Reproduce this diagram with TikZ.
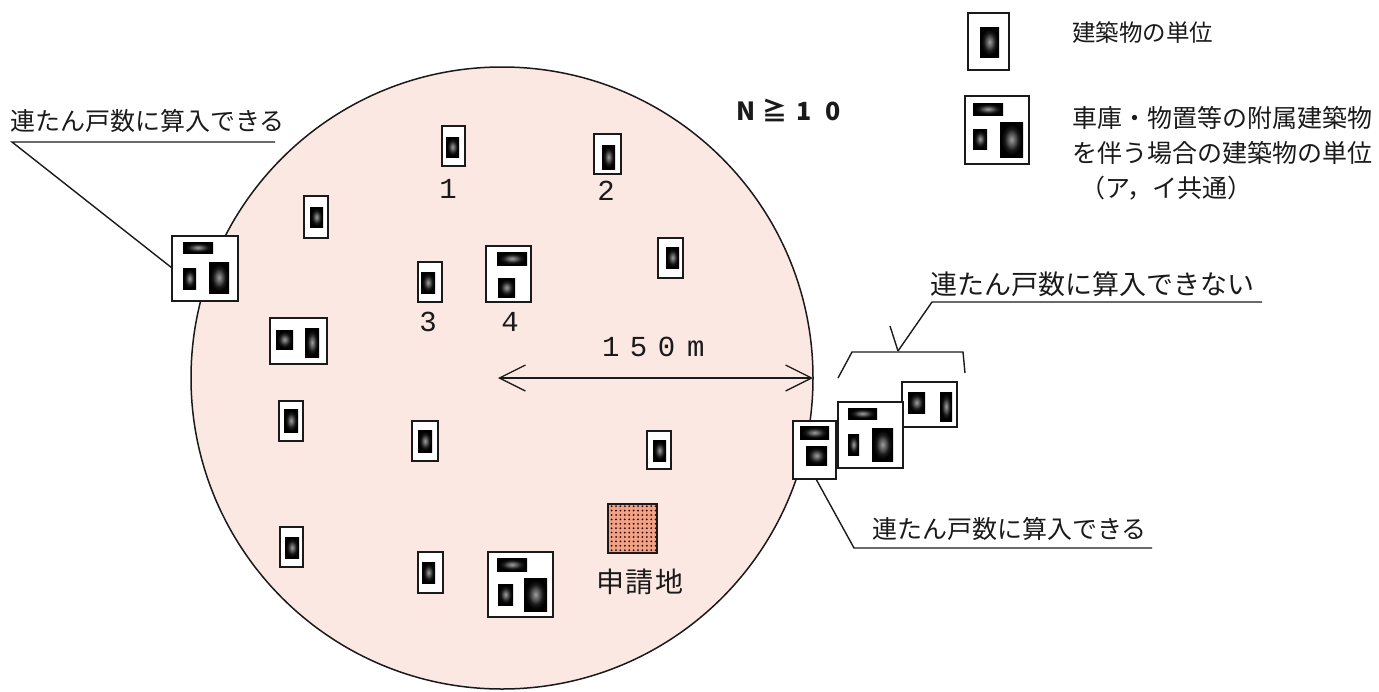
\documentclass[tikz,border=0pt]{standalone}
\usepackage{fontspec}
\setmainfont{Noto Sans CJK JP}
\newfontfamily\numfont{Liberation Mono}
\usetikzlibrary{arrows.meta,patterns.meta}
\definecolor{circlefill}{HTML}{FCE8E2}
\definecolor{sitefill}{HTML}{F0A286}
\definecolor{inkc}{HTML}{1A1A1A}
\pgfdeclareradialshading{blockshade}{\pgfpoint{0bp}{0bp}}{color(0bp)=(black!38); color(8bp)=(black!65); color(15bp)=(black!90); color(22bp)=(black); color(50bp)=(black)}
\tikzset{
 unitbox/.style={draw=inkc,fill=white,line width=1.6pt,inner sep=0pt,outer sep=0pt},
 blockbox/.style={shading=blockshade,inner sep=0pt,outer sep=0pt},
 leader/.style={draw=inkc,line width=1.4pt},
 jp/.style={inner sep=0pt,outer sep=0pt,text=inkc,anchor=west},
 numlabel/.style={inner sep=0pt,outer sep=0pt,text=inkc,font=\numfont\fontsize{29}{29}\selectfont}
}
% name x1 y1 x2 y2
\newcommand\ubox[5]{\node[unitbox,minimum width={(#4-#2)*1pt},minimum height={(#5-#3)*1pt}] (#1) at ({(#2+#4)/2},{(#3+#5)/2}) {};}
\newcommand\ublock[5]{\node[blockbox,minimum width={(#4-#2)*1pt},minimum height={(#5-#3)*1pt}] (#1) at ({(#2+#4)/2},{(#3+#5)/2}) {};}
\begin{document}
\begin{tikzpicture}[x=1pt,y=-1pt]
\useasboundingbox (0,0) rectangle (1379,691);
\node[circle,draw=inkc,fill=circlefill,line width=1.5pt,minimum size=622pt,inner sep=0pt,outer sep=0pt] (zone) at (502,378) {};
% small units
\ubox{u1}{442}{126}{465}{166}\ublock{b1}{446}{137}{459}{157}
\ubox{u2}{594}{134}{621}{174}\ublock{b2}{602}{145}{615}{169}
\ubox{u5}{304}{196}{328}{238}\ublock{b5}{310}{207}{323}{227}
\ubox{u3}{418}{262}{442}{302}\ublock{b3}{421}{272}{435}{293}
\ubox{u6}{658}{238}{683}{278}\ublock{b6}{666}{247}{679}{268}
\ubox{u7}{279}{401}{303}{441}\ublock{b7}{284}{409}{298}{432}
\ubox{u8}{412}{421}{438}{461}\ublock{b8}{418}{430}{432}{452}
\ubox{u9}{647}{431}{671}{469}\ublock{b9}{653}{440}{666}{461}
\ubox{u10}{280}{527}{303}{567}\ublock{b10}{285}{537}{299}{558}
\ubox{u11}{418}{552}{443}{593}\ublock{b11}{422}{562}{435}{583}
% composite units
\ubox{u4}{486}{246}{531}{302}\ublock{b4a}{497}{252}{527}{265}\ublock{b4b}{498}{278}{515}{297}
\ubox{u12}{270}{318}{327}{364}\ublock{b12a}{276}{330}{293}{349}\ublock{b12b}{305}{328}{319}{357}
\ubox{u13}{172}{236}{238}{301}\ublock{b13a}{183}{242}{213}{253}\ublock{b13b}{183}{268}{196}{289}\ublock{b13c}{209}{262}{229}{293}
\ubox{u14}{488}{552}{553}{617}\ublock{b14a}{497}{558}{527}{571}\ublock{b14b}{498}{584}{513}{605}\ublock{b14c}{524}{578}{547}{611}
% site
\node[draw=inkc,line width=1.5pt,fill=sitefill,postaction={pattern={Dots[distance=4.4pt,radius=1pt]},pattern color=black!80!red},minimum size=49pt,inner sep=0pt,outer sep=0pt] (site) at (632.5,528.5) {};
\node[inner sep=0pt,text=inkc,font=\fontsize{28}{28}\selectfont] (sitelabel) at (640,582) {申\hspace{2pt}請\hspace{2pt}地};
% right cluster
\ubox{r3}{902}{382}{957}{427}\ublock{r3a}{908}{392}{925}{413}\ublock{r3b}{940}{392}{952}{421}
\ubox{r2}{838}{402}{903}{468}\ublock{r2a}{848}{408}{877}{419}\ublock{r2b}{848}{434}{859}{455}\ublock{r2c}{872}{428}{893}{461}
\ubox{r1}{793}{421}{836}{479}\ublock{r1a}{800}{426}{829}{439}\ublock{r1b}{806}{446}{827}{465}
% legend
\ubox{l1}{968}{13}{1009}{70}\ublock{l1a}{980}{27}{999}{57}
\ubox{l2}{965}{96}{1029}{164}\ublock{l2a}{973}{103}{1003}{115}\ublock{l2b}{973}{129}{987}{149}\ublock{l2c}{1000}{122}{1023}{157}
\node[jp,font=\fontsize{23.5}{23.5}\selectfont] (t1) at (1072,33) {建築物の単位};
\node[jp,font=\fontsize{25}{25}\selectfont] (t2) at (1072,118) {車庫・物置等の附属建築物};
\node[jp,font=\fontsize{25}{25}\selectfont] (t3) at (1072,153) {を伴う場合の建築物の単位};
\node[jp,font=\fontsize{25}{25}\selectfont] (t4) at (1080,188) {（ア，イ共通）};
\node[jp,font=\bfseries\fontsize{25}{25}\selectfont] (cond) at (736,110) {N\hspace{7pt}≧\hspace{9pt}1\hspace{14pt}0};
% labels
\node[numlabel] (n1) at (448,189) {1};
\node[numlabel] (n2) at (606,191) {2};
\node[numlabel] (n3) at (428,322) {3};
\node[numlabel] (n4) at (510,322) {4};
\node[numlabel,anchor=west] (dist) at (602,347) {1\hspace{10.5pt}5\hspace{10.5pt}0\hspace{12pt}m};
% leaders
\node[jp,font=\fontsize{25}{25}\selectfont] (lt) at (10,121) {連たん戸数に算入できる};
\node[jp,font=\fontsize{27}{27}\selectfont] (rt) at (930,284) {連たん戸数に算入できない};
\node[jp,font=\fontsize{25}{25}\selectfont] (bt) at (872,529) {連たん戸数に算入できる};
\coordinate (la) at (12,142); \coordinate (lb) at (275,142);
\draw[leader] (lb) -- (la) -- (u13.west |- 0,268);
\coordinate (ra) at (1262,302); \coordinate (rb) at (932,302); \coordinate (rc) at (898,351);
\draw[leader] (ra) -- (rb) -- (rc);
\coordinate (ba) at (838,378); \coordinate (bb) at (852,352); \coordinate (bc) at (963,352); \coordinate (bd) at (965,373);
\draw[leader] (ba) -- (bb) -- (bc) -- (bd);
\coordinate (tick) at (890,326);
\draw[leader] (tick) -- (rc);
\coordinate (ca) at (854,548); \coordinate (cb) at (1152,548);
\draw[leader] (r1.south west -| 816,0) -- (ca) -- (cb);
% radius arrow
\coordinate (centre) at (498,378);
\draw[draw=inkc,line width=1.4pt,{Straight Barb[length=26pt,width=26pt,line width=1.3pt]}-{Straight Barb[length=26pt,width=26pt,line width=1.3pt]}] (centre) -- (zone.east);
\end{tikzpicture}
\end{document}
